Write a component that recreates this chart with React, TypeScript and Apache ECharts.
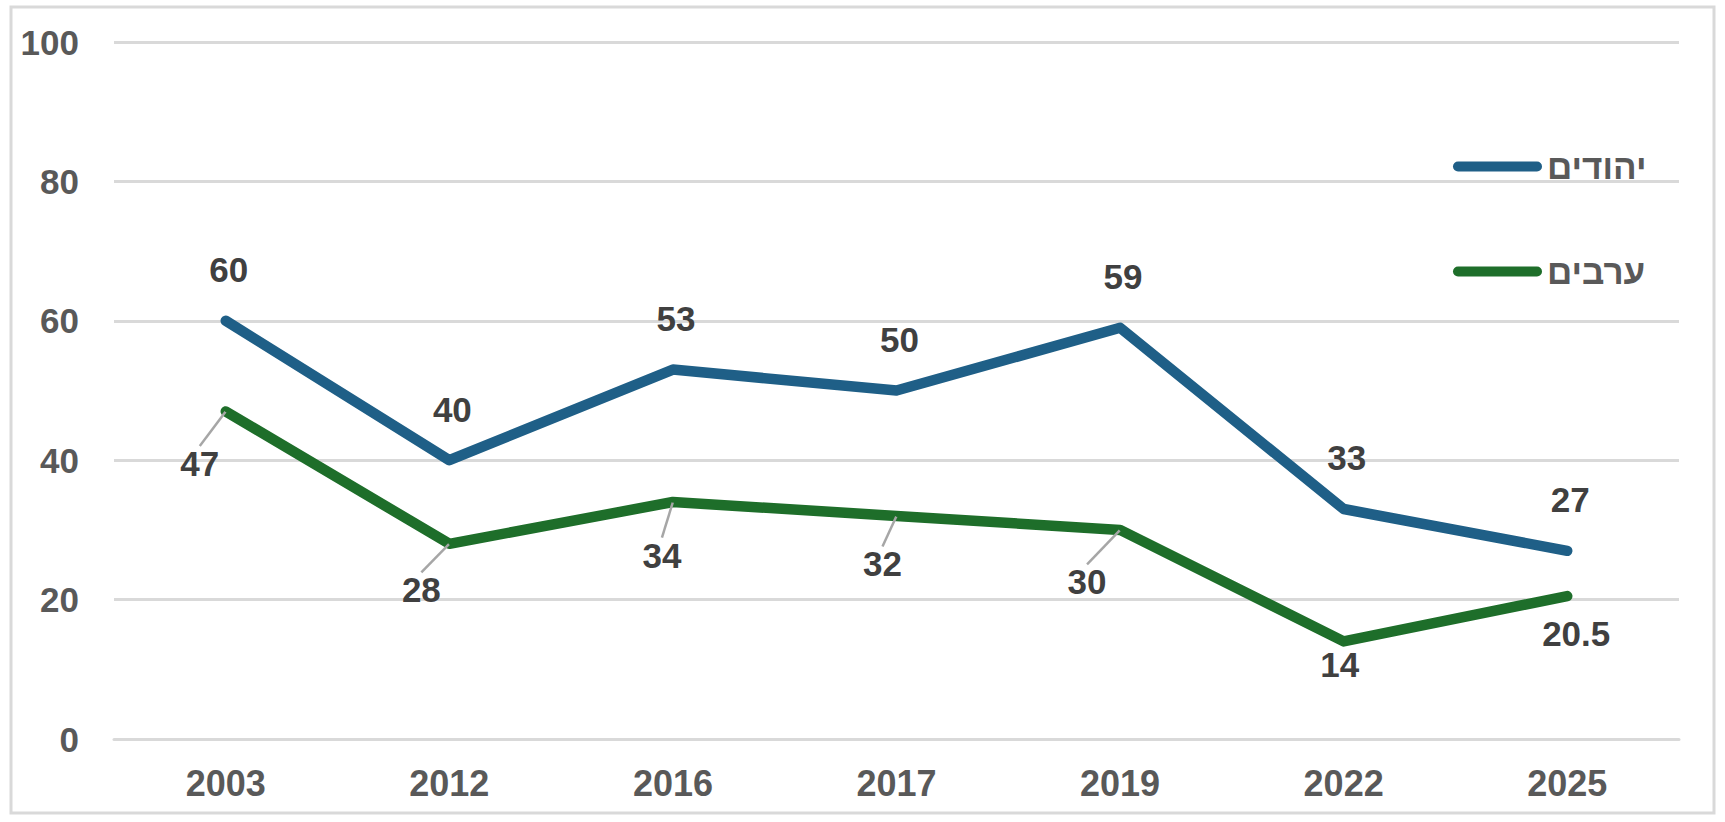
import React, { useEffect, useRef } from "react";
import * as echarts from "echarts";

const years = ["2003", "2012", "2016", "2017", "2019", "2022", "2025"];
const jewsName = "יהודים";
const arabsName = "ערבים";
const jewsValues = [60, 40, 53, 50, 59, 33, 27];
const arabsValues = [47, 28, 34, 32, 30, 14, 20.5];
const yTicks = [0, 20, 40, 60, 80, 100];

// label placement (style only)
const arabsLabelDx = [-26, -28, -11, -14, -33, -4, 9];
const arabsLabelDy = [52, 46, 53, 48, 52, 23, 37];
const arabsLeader = [true, true, true, true, true, false, false];

const FONT = "'Liberation Sans', Arial, sans-serif";

export default function App() {
  const ref = useRef<HTMLDivElement>(null);
  useEffect(() => {
    if (!ref.current) return;
    const chart = echarts.init(ref.current, undefined, { renderer: "svg" });
    const labelStyle = {
      show: true,
      fontFamily: FONT,
      fontWeight: "bold",
      fontSize: 35,
      color: "#404040",
    };
    chart.setOption({
      animation: false,
      backgroundColor: "#ffffff",
      textStyle: { fontFamily: FONT },
      graphic: [
        {
          type: "rect",
          shape: { x: 11, y: 7, width: 1703, height: 806 },
          style: { fill: "none", stroke: "#D9D9D9", lineWidth: 3 },
          silent: true,
        },
      ],
      grid: { left: 114, right: 46, top: 42, bottom: 83 },
      legend: {
        orient: "vertical",
        left: 1448,
        top: 144,
        itemGap: 70,
        itemWidth: 89,
        itemHeight: 10,
        itemTextGap: 6,
        icon: "path://M5,0 H84 A5,5 0 0 1 84,10 H5 A5,5 0 0 1 5,0 Z",
        textStyle: {
          fontFamily: FONT,
          fontWeight: "bold",
          fontSize: 35,
          color: "#595959",
        },
        data: [jewsName, arabsName],
      },
      xAxis: {
        type: "category",
        data: years,
        boundaryGap: true,
        axisLine: { show: true, lineStyle: { color: "#D9D9D9", width: 3 } },
        axisTick: { show: false },
        axisLabel: {
          fontFamily: FONT,
          fontWeight: "bold",
          fontSize: 36,
          color: "#595959",
          margin: 26,
        },
      },
      yAxis: {
        type: "value",
        min: yTicks[0],
        max: yTicks[yTicks.length - 1],
        interval: 20,
        axisLine: { show: false },
        axisTick: { show: false },
        splitLine: { lineStyle: { color: "#D9D9D9", width: 3 } },
        axisLabel: {
          fontFamily: FONT,
          fontWeight: "bold",
          fontSize: 35,
          color: "#595959",
          margin: 35,
        },
      },
      series: [
        {
          name: jewsName,
          type: "line",
          data: jewsValues,
          symbol: "circle",
          symbolSize: 1,
          showSymbol: true,
          lineStyle: { color: "#1F5F87", width: 10.5, cap: "round", join: "round" },
          itemStyle: { color: "#1F5F87" },
          label: { ...labelStyle, position: "top", distance: 33, offset: [3, 0] },
          emphasis: { disabled: true },
          z: 3,
        },
        {
          name: arabsName,
          type: "line",
          data: arabsValues.map((v, i) => ({
            value: v,
            labelLine: { show: arabsLeader[i] },
          })),
          symbol: "circle",
          symbolSize: 1,
          showSymbol: true,
          lineStyle: { color: "#1E6E2A", width: 10.5, cap: "round", join: "round" },
          itemStyle: { color: "#1E6E2A" },
          label: { ...labelStyle, position: "inside" },
          labelLine: {
            show: true,
            lineStyle: { color: "#A6A6A6", width: 2.5 },
          },
          labelLayout: (params: any) => ({
            dx: arabsLabelDx[params.dataIndex],
            dy: arabsLabelDy[params.dataIndex],
          }),
          emphasis: { disabled: true },
          z: 3,
        },
      ],
    });
    return () => chart.dispose();
  }, []);
  return (
    <div
      ref={ref}
      style={{ position: "fixed", left: 0, top: 0, width: 1725, height: 822 }}
    />
  );
}
